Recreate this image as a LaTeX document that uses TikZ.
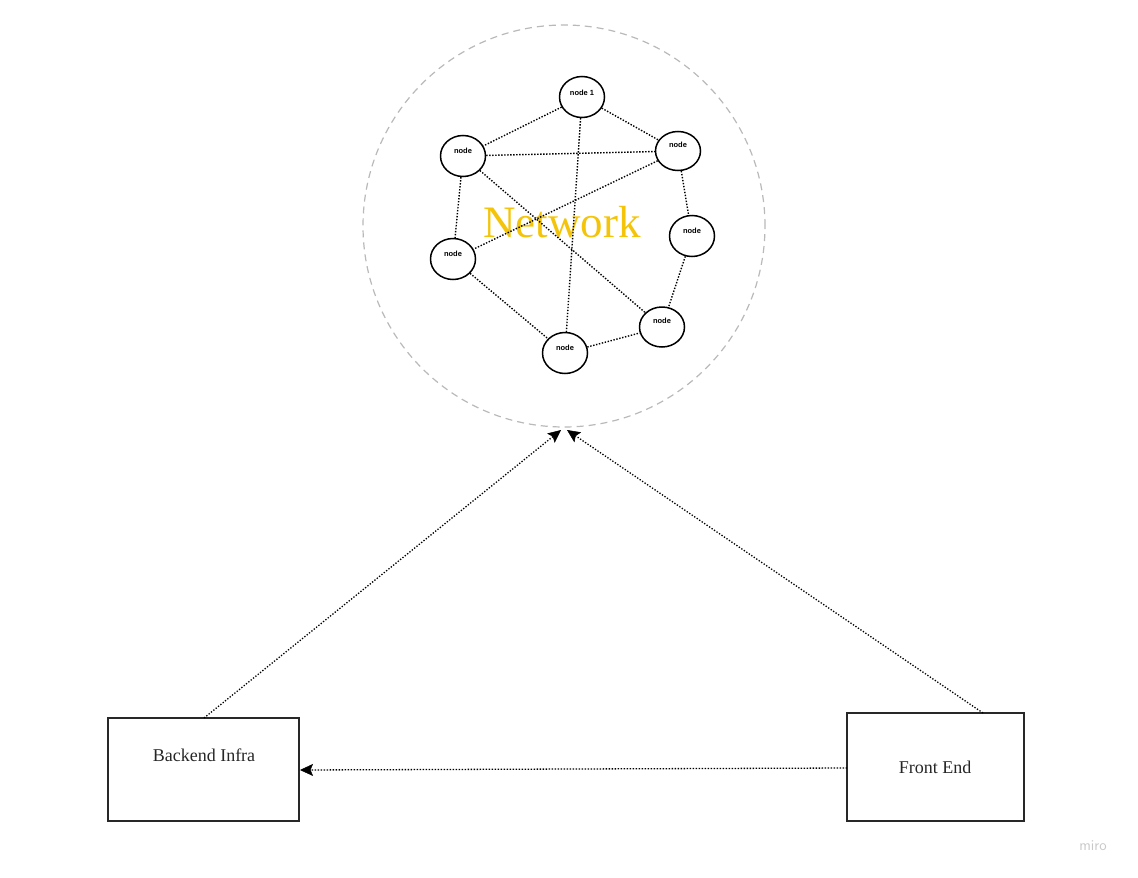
\documentclass[tikz,border=0pt]{standalone}
\usepackage{fontspec}
\setmainfont{Liberation Serif}
\newfontfamily\labelsans{Liberation Sans}
\usetikzlibrary{shapes.geometric,arrows.meta}
\definecolor{netyellow}{RGB}{244,196,10}
\definecolor{ringgray}{RGB}{185,185,185}
\definecolor{boxgray}{RGB}{40,40,40}
\definecolor{mirogray}{RGB}{200,200,200}
\tikzset{
  peer/.style={draw=black, line width=1.5pt, shape=ellipse, minimum width=45pt, minimum height=41pt, inner sep=0pt},
  peerlabel/.style={font=\labelsans\bfseries\fontsize{7.5}{8}\selectfont},
  link/.style={line width=1.4pt, dash pattern=on 1.4pt off 1.6pt},
  flow/.style={line width=1.3pt, dash pattern=on 1.3pt off 1.7pt, -{Stealth[length=13pt,width=12pt,inset=2.5pt,line width=0.5pt]}},
  block/.style={draw=boxgray, line width=1.5pt, inner sep=0pt},
  blocktext/.style={font=\fontsize{18}{20}\selectfont, text=black!85},
  ring/.style={draw=ringgray, line width=1.2pt, dash pattern=on 7pt off 5pt}
}
\begin{document}
\begin{tikzpicture}[x=1pt,y=-1pt]
\useasboundingbox (0,0) rectangle (1138,878);
% network ring
\node[ring, circle, minimum size=402pt, inner sep=0pt] (net) at (564,226) {};
\node[text=netyellow, font=\fontsize{45}{48}\selectfont] (nettext) at (562,222) {Network};
% peers
\node[peer] (n1) at (582,97) {};
\node[peer] (ul) at (463,156) {};
\node[peer, minimum height=39pt] (ur) at (678,151) {};
\node[peer] (r) at (692,236) {};
\node[peer] (l) at (453,259) {};
\node[peer, minimum height=40pt] (br) at (662,327) {};
\node[peer] (b) at (565,353) {};
\node[peerlabel] (t1) at (582,93) {node 1};
\node[peerlabel] (tul) at (463,151) {node};
\node[peerlabel] (tur) at (678,145) {node};
\node[peerlabel] (tr) at (692,231) {node};
\node[peerlabel] (tl) at (453,254) {node};
\node[peerlabel] (tbr) at (662,321) {node};
\node[peerlabel] (tb) at (565,348) {node};
% links
\draw[link] (n1) -- (ul);
\draw[link] (n1) -- (ur);
\draw[link] (n1) -- (b);
\draw[link] (ul) -- (ur);
\draw[link] (ul) -- (l);
\draw[link] (ul) -- (br);
\draw[link] (ur) -- (l);
\draw[link] (ur) -- (r);
\draw[link] (r) -- (br);
\draw[link] (l) -- (b);
\draw[link] (b) -- (br);
% boxes
\node[block, minimum width=191pt, minimum height=103pt] (be) at (203.5,769.5) {};
\node[blocktext] (betext) at (204,755) {Backend Infra};
\node[block, minimum width=177pt, minimum height=108pt] (fe) at (935.5,767) {};
\node[blocktext] (fetext) at (935,767) {Front End};
% arrow targets on the ring
\coordinate (tipA) at (561,430);
\coordinate (tipB) at (567,430);
\coordinate (beTop) at (204,718);
\coordinate (feTop) at (983,713);
\coordinate (feLeft) at (847,768);
\coordinate (beRight) at (300,770);
\draw[flow] (beTop) -- (tipA);
\draw[flow] (feTop) -- (tipB);
\draw[flow] (feLeft) -- (beRight);
% watermark
\node[text=mirogray, font=\sffamily\fontsize{15}{16}\selectfont] (miro) at (1093,846) {miro};
\end{tikzpicture}
\end{document}
